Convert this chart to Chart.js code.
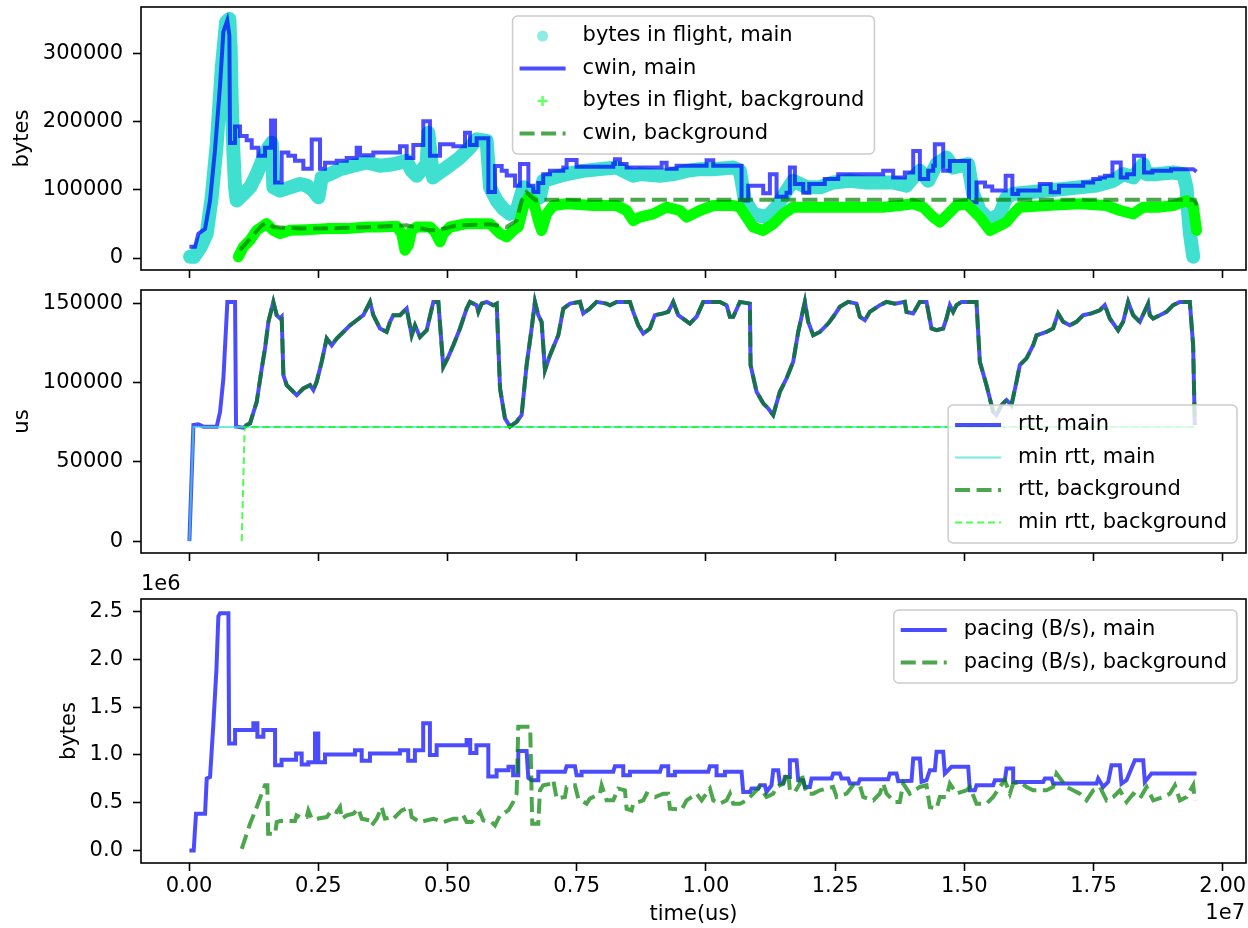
<!DOCTYPE html>
<html>
<head>
<meta charset="utf-8">
<script src="https://cdn.jsdelivr.net/npm/chart.js@4.4.1/dist/chart.umd.min.js"></script>
<style>
  html, body { margin: 0; padding: 0; background: #fff; }
  #wrap { position: relative; width: 1248px; height: 928px; }
  canvas { position: absolute; left: 0; }
</style>
</head>
<body>
<div id="wrap">
  <canvas id="c1" width="1248" height="282" style="top:0px"></canvas>
  <canvas id="c2" width="1248" height="285" style="top:280px"></canvas>
  <canvas id="c3" width="1248" height="368" style="top:560px"></canvas>
</div>
<script>
// --- axes / ticks ---
const xTicks = [0, 2500000, 5000000, 7500000, 10000000, 12500000, 15000000, 17500000, 20000000];
const xTickLabels = ['0.00', '0.25', '0.50', '0.75', '1.00', '1.25', '1.50', '1.75', '2.00'];
const yTicksTop = [0, 100000, 200000, 300000];
const yLabelsTop = ['0', '100000', '200000', '300000'];
const yTicksMid = [0, 50000, 100000, 150000];
const yLabelsMid = ['0', '50000', '100000', '150000'];
const yTicksBot = [0, 500000, 1000000, 1500000, 2000000, 2500000];
const yLabelsBot = ['0.0', '0.5', '1.0', '1.5', '2.0', '2.5'];

// --- top panel: [time (us), bytes] ---
const bifMain = [[20000,1900],[97000,1900],[226000,16500],[342000,35900],[438000,89200],[535000,166900],[632000,278500],[716000,346500],[780000,351000],[806000,302500],[825000,230000],[857000,157000],[890000,103800],[922000,84400],[1051000,94100],[1180000,103800],[1309000,123200],[1438000,147500],[1535000,162000],[1599000,169300],[1631000,103800],[1760000,99000],[1954000,103800],[2147000,108700],[2276000,106300],[2405000,99000],[2502000,89200],[2566000,118300],[2727000,123200],[2920000,130500],[3178000,135400],[3437000,140200],[3694000,135400],[3952000,137800],[4210000,142600],[4307000,128000],[4404000,120800],[4597000,137800],[4630000,184000],[4720000,118300],[4984000,132900],[5242000,147500],[5435000,162000],[5564000,174200],[5758000,171800],[5823000,103800],[5952000,84400],[6081000,72200],[6210000,64900],[6339000,69800],[6468000,103800],[6630000,94100],[6789000,89200],[6853000,113500],[7305000,123200],[7627000,128000],[7950000,130500],[8272000,132900],[8594000,120800],[8724000,123200],[9111000,120800],[9369000,123200],[9627000,128000],[9884000,130500],[10142000,130500],[10529000,132900],[10658000,128000],[10755000,84400],[10916000,64900],[11173000,60000],[11367000,74700],[11560000,99000],[11689000,113500],[11947000,103800],[12205000,103800],[12463000,111000],[12786000,113500],[13108000,111000],[13430000,111000],[13623000,111000],[13881000,106300],[14011000,118300],[14140000,128000],[14301000,113500],[14462000,137800],[14656000,147500],[14785000,132900],[15075000,137800],[15171000,94100],[15300000,69800],[15494000,55100],[15687000,64900],[15816000,89200],[15945000,94100],[16268000,96500],[16590000,99000],[16913000,101400],[17235000,103800],[17558000,106300],[17881000,113500],[18074000,123200],[18268000,118300],[18461000,137800],[18526000,123200],[18719000,123200],[19042000,125600],[19236000,123200],[19300000,103800],[19332000,64900],[19365000,35900],[19429000,1900]];

const cwinMain = [[6000,16500],[116000,16500],[180000,35900],[310000,43000],[405000,84000],[500000,157000],[600000,254000],[664000,332000],[740000,349000],[780000,327000],[793000,169000],[890000,169000],[890000,193000],[986000,193000],[986000,179000],[1115000,179000],[1115000,173000],[1212000,173000],[1212000,162000],[1341000,162000],[1341000,150000],[1470000,150000],[1470000,162000],[1586000,162000],[1586000,202000],[1663000,202000],[1663000,111000],[1792000,111000],[1792000,155000],[1921000,155000],[1921000,150000],[2050000,150000],[2050000,143000],[2211000,143000],[2211000,131000],[2373000,131000],[2373000,174000],[2534000,174000],[2534000,131000],[2631000,131000],[2631000,140000],[2856000,140000],[2856000,143000],[3050000,143000],[3050000,147000],[3243000,147000],[3243000,162000],[3307000,162000],[3307000,151000],[3565000,151000],[3565000,155000],[4081000,155000],[4081000,164000],[4210000,164000],[4210000,147000],[4339000,147000],[4339000,166000],[4532000,166000],[4532000,201000],[4661000,201000],[4661000,150000],[4855000,150000],[4855000,167000],[5113000,167000],[5113000,164000],[5339000,164000],[5339000,184000],[5435000,184000],[5435000,166000],[5564000,166000],[5564000,176000],[5791000,176000],[5791000,97000],[5920000,97000],[5920000,135000],[6049000,135000],[6049000,128000],[6146000,128000],[6146000,121000],[6306000,121000],[6306000,106000],[6402000,106000],[6402000,138000],[6565000,138000],[6565000,106000],[6660000,106000],[6660000,97000],[6757000,97000],[6757000,110000],[6853000,110000],[6853000,123000],[6983000,123000],[6983000,128000],[7241000,128000],[7241000,133000],[7305000,133000],[7305000,144000],[7498000,144000],[7498000,134000],[8208000,134000],[8208000,138000],[8240000,138000],[8240000,145000],[8337000,145000],[8337000,138000],[8466000,138000],[8466000,133000],[9143000,133000],[9143000,140000],[9240000,140000],[9240000,131000],[9433000,131000],[9433000,135400],[10013000,135400],[10013000,143600],[10142000,143600],[10142000,135400],[10690000,135400],[10690000,84400],[10819000,84400],[10819000,106300],[11109000,106300],[11109000,95000],[11238000,95000],[11238000,123000],[11367000,123000],[11367000,90000],[11560000,90000],[11560000,96000],[11625000,96000],[11625000,133000],[11722000,133000],[11722000,108700],[11883000,108700],[11883000,96000],[12000000,96000],[12000000,108700],[12300000,108700],[12300000,116000],[12560000,116000],[12560000,123000],[13430000,123000],[13430000,128000],[13623000,128000],[13623000,118300],[13849000,118300],[13849000,125600],[14011000,125600],[14011000,157200],[14140000,157200],[14140000,116000],[14301000,116000],[14301000,128000],[14398000,128000],[14398000,135400],[14430000,135400],[14430000,166900],[14591000,166900],[14591000,128000],[14720000,128000],[14720000,142600],[15091000,142600],[15091000,82000],[15236000,82000],[15236000,111000],[15400000,111000],[15400000,105000],[15540000,105000],[15540000,99000],[15800000,99000],[15800000,120800],[15929000,120800],[15929000,94000],[16042000,94000],[16042000,99000],[16460000,99000],[16460000,108700],[16671000,108700],[16671000,96500],[16832000,96500],[16832000,106300],[17300000,106300],[17300000,111000],[17494000,111000],[17494000,116000],[17623000,116000],[17623000,118300],[17720000,118300],[17720000,120800],[17865000,120800],[17865000,140200],[18026000,140200],[18026000,118300],[18150000,118300],[18150000,123200],[18284000,123200],[18284000,150000],[18477000,150000],[18477000,125600],[18640000,125600],[18640000,128000],[19000000,128000],[19000000,130500],[19429000,130500],[19493000,127000]];

const bifBg = [[954000,1900],[1051000,16500],[1180000,26200],[1309000,40800],[1406000,45600],[1500000,50500],[1631000,40800],[1760000,35900],[1954000,40800],[2276000,41700],[2663000,43200],[3050000,43200],[3437000,45600],[3694000,45600],[4017000,46600],[4114000,35900],[4178000,11600],[4243000,18900],[4307000,40800],[4404000,45600],[4661000,45600],[4758000,38300],[4855000,23800],[4919000,35900],[5048000,45600],[5371000,50500],[5823000,50500],[6017000,35900],[6146000,31000],[6275000,40800],[6370000,45600],[6466000,74700],[6563000,89200],[6660000,84400],[6757000,55100],[6821000,40500],[6918000,64900],[7047000,77100],[7305000,79600],[7821000,77100],[8272000,77100],[8466000,69800],[8594000,55100],[8724000,60000],[8982000,64900],[9240000,74700],[9498000,69800],[9627000,60000],[9884000,69800],[10142000,77100],[10529000,77100],[10658000,74700],[10787000,60000],[10916000,45400],[11109000,40500],[11302000,50200],[11496000,64900],[11689000,74700],[12141000,74700],[12786000,74700],[13430000,74700],[13752000,77100],[14011000,79600],[14204000,74700],[14398000,60000],[14527000,52700],[14656000,62400],[14849000,77100],[15042000,79600],[15171000,69800],[15300000,60000],[15494000,40500],[15687000,47800],[15816000,52700],[15945000,64900],[16074000,74700],[16590000,77100],[17235000,79600],[17752000,77100],[18010000,69800],[18268000,64900],[18461000,74700],[18784000,74700],[19042000,77100],[19300000,84400],[19429000,77100],[19493000,40500]];

const cwinBg = [[986000,11600],[1212000,31000],[1406000,48000],[1500000,51500],[1630000,45600],[2146000,43200],[2920000,44000],[3565000,45600],[4210000,48000],[4660000,40800],[4855000,41700],[5178000,48000],[5823000,49500],[6146000,45600],[6340000,55000],[6436000,84400],[6530000,96500],[6630000,89200],[6720000,84400],[6821000,85400],[12000000,85400],[19460000,85400],[19493000,77000]];

// --- middle panel: [time (us), us] ---
const rttMain = [[6000,0],[84000,73300],[180000,73700],[277000,72300],[535000,72300],[600000,81700],[664000,102700],[741000,151100],[890000,151100],[909000,72300],[1051000,71600],[1115000,73300],[1180000,74400],[1309000,88000],[1406000,109000],[1470000,121700],[1535000,138500],[1631000,151100],[1696000,142700],[1760000,140600],[1792000,141700],[1825000,104800],[1889000,98500],[2083000,92200],[2211000,96400],[2341000,98500],[2405000,95400],[2469000,100600],[2566000,113300],[2663000,128000],[2760000,123700],[2856000,128000],[2985000,132100],[3114000,136300],[3243000,139500],[3372000,142700],[3501000,151100],[3565000,142700],[3694000,134300],[3823000,132100],[3888000,138500],[3952000,142700],[4081000,142700],[4210000,146900],[4307000,130000],[4371000,136300],[4468000,128900],[4597000,133200],[4726000,151100],[4823000,151100],[4919000,110100],[5016000,116400],[5113000,123700],[5242000,134300],[5371000,146900],[5435000,151100],[5564000,149000],[5597000,144800],[5661000,150000],[5758000,151100],[5887000,149000],[5952000,150000],[6017000,96400],[6112000,77500],[6209000,72300],[6338000,75400],[6434000,79600],[6531000,111200],[6628000,134300],[6692000,151100],[6757000,142700],[6821000,138500],[6886000,108000],[6983000,117400],[7144000,130000],[7241000,146900],[7370000,150000],[7563000,151100],[7627000,143800],[7756000,146900],[7885000,151100],[8078000,150000],[8143000,149000],[8272000,151100],[8530000,151100],[8594000,144800],[8691000,136300],[8788000,131100],[8917000,134300],[9013000,142700],[9175000,143800],[9271000,144800],[9368000,151100],[9465000,142700],[9690000,137400],[9819000,141700],[9948000,151100],[10271000,151100],[10400000,149000],[10464000,141700],[10529000,141700],[10658000,151100],[10851000,150000],[10864000,111200],[10980000,94300],[11109000,87000],[11206000,83800],[11302000,79600],[11431000,94300],[11560000,102700],[11689000,113300],[11786000,132100],[11915000,151100],[11979000,138500],[12076000,130000],[12205000,132100],[12366000,137400],[12463000,141700],[12592000,148000],[12753000,151100],[12914000,150000],[12979000,141700],[13076000,139500],[13172000,144800],[13366000,149000],[13495000,151100],[13656000,150000],[13849000,151100],[13881000,144800],[14010000,143800],[14139000,151100],[14268000,151100],[14365000,134300],[14462000,133200],[14591000,134300],[14655000,140600],[14720000,149000],[14784000,144800],[14849000,149000],[14945000,151100],[15235000,151100],[15300000,113300],[15429000,98500],[15558000,81700],[15622000,79600],[15719000,85900],[15816000,89100],[15912000,85900],[16009000,100600],[16074000,111200],[16203000,115400],[16332000,123700],[16396000,130000],[16589000,132100],[16718000,134300],[16815000,143800],[16912000,138500],[17041000,136300],[17170000,138500],[17299000,142700],[17460000,143800],[17621000,145800],[17718000,149000],[17815000,140600],[17976000,133200],[18073000,138500],[18170000,151100],[18266000,142700],[18395000,138500],[18556000,150000],[18589000,142700],[18653000,140600],[18782000,142700],[18911000,144800],[19040000,149000],[19169000,151100],[19363000,151100],[19427000,123700],[19459000,73300]];
const rttBgStart = [[1083000,73000]];
const minRttMain = [[6000,0],[84000,72000],[19459000,72000]];
const minRttBg = [[1019000,0],[1075000,72000],[19459000,72000]];

// --- bottom panel: [time (us), bytes/s] ---
const pacingMain = [[6000,0],[90000,0],[110000,180000],[135000,385000],[309000,385000],[342000,753000],[406000,770000],[471000,1330000],[530000,1900000],[567000,2450000],[600000,2480000],[761000,2480000],[775000,1120000],[890000,1120000],[890000,1260000],[1244000,1260000],[1244000,1330000],[1322000,1330000],[1322000,1190000],[1438000,1190000],[1438000,1260000],[1664000,1260000],[1664000,893000],[1790000,893000],[1790000,950000],[2070000,950000],[2070000,1015000],[2179000,1015000],[2179000,900000],[2308000,900000],[2308000,922000],[2437000,922000],[2437000,1225000],[2500000,1225000],[2500000,922000],[2630000,922000],[2630000,1005000],[3210000,1005000],[3210000,1050000],[3340000,1050000],[3340000,940000],[3500000,940000],[3500000,1015000],[4080000,1015000],[4080000,1050000],[4240000,1050000],[4240000,940000],[4370000,940000],[4370000,1050000],[4530000,1050000],[4530000,1330000],[4660000,1330000],[4660000,1000000],[4790000,1000000],[4790000,1100000],[5370000,1100000],[5370000,1155000],[5440000,1155000],[5440000,1020000],[5560000,1020000],[5560000,1100000],[5790000,1100000],[5790000,775000],[5950000,775000],[5950000,840000],[6180000,840000],[6180000,875000],[6270000,875000],[6270000,787000],[6370000,787000],[6370000,1040000],[6531000,1040000],[6564000,760000],[6628000,735000],[6757000,735000],[6757000,823000],[7273000,823000],[7305000,882000],[7466000,882000],[7498000,788000],[7595000,788000],[7595000,823000],[8207000,823000],[8240000,882000],[8401000,882000],[8401000,788000],[8530000,788000],[8530000,823000],[9111000,823000],[9143000,882000],[9271000,882000],[9271000,788000],[9400000,788000],[9400000,823000],[10045000,823000],[10077000,882000],[10206000,882000],[10206000,788000],[10368000,788000],[10368000,823000],[10690000,823000],[10722000,613000],[10851000,613000],[10883000,648000],[11012000,648000],[11044000,683000],[11141000,683000],[11173000,613000],[11270000,683000],[11302000,840000],[11399000,840000],[11431000,700000],[11496000,700000],[11528000,770000],[11625000,770000],[11625000,945000],[11754000,945000],[11786000,735000],[11883000,735000],[11915000,665000],[12012000,665000],[12044000,753000],[12431000,753000],[12463000,805000],[12592000,805000],[12624000,753000],[12753000,753000],[12786000,700000],[12947000,700000],[12979000,745000],[13527000,745000],[13559000,805000],[13688000,805000],[13721000,725000],[13978000,730000],[14011000,963000],[14140000,963000],[14172000,718000],[14268000,735000],[14333000,840000],[14430000,840000],[14462000,1033000],[14591000,1033000],[14623000,805000],[14752000,875000],[15075000,875000],[15107000,630000],[15204000,630000],[15236000,683000],[15558000,683000],[15591000,735000],[15784000,735000],[15816000,858000],[15945000,858000],[15945000,718000],[16526000,718000],[16558000,753000],[16687000,753000],[16719000,700000],[17558000,700000],[17590000,753000],[17687000,665000],[17784000,718000],[17848000,893000],[18009000,893000],[18041000,700000],[18138000,735000],[18299000,945000],[18461000,945000],[18493000,718000],[18622000,805000],[19493000,805000]];

const pacingBg = [[1019000,17500],[1180000,280000],[1310000,455000],[1406000,595000],[1470000,683000],[1515000,683000],[1530000,175000],[1664000,175000],[1696000,298000],[1760000,308000],[2050000,308000],[2080000,368000],[2147000,350000],[2276000,350000],[2308000,420000],[2373000,333000],[2469000,333000],[2663000,350000],[2760000,420000],[2856000,403000],[2920000,455000],[2953000,333000],[3050000,368000],[3179000,385000],[3275000,438000],[3340000,333000],[3501000,315000],[3533000,263000],[3630000,333000],[3727000,455000],[3791000,333000],[3920000,350000],[3952000,333000],[4114000,420000],[4275000,455000],[4307000,350000],[4468000,298000],[4726000,333000],[4919000,298000],[5113000,333000],[5242000,333000],[5306000,368000],[5371000,298000],[5468000,298000],[5500000,315000],[5629000,403000],[5693000,315000],[5855000,298000],[5919000,263000],[6016000,368000],[6177000,420000],[6273000,508000],[6338000,595000],[6370000,1295000],[6600000,1295000],[6640000,280000],[6757000,280000],[6789000,630000],[6853000,683000],[7015000,700000],[7047000,735000],[7112000,543000],[7273000,560000],[7305000,665000],[7466000,683000],[7530000,543000],[7692000,490000],[7756000,543000],[7950000,595000],[7982000,683000],[8079000,525000],[8208000,525000],[8305000,648000],[8433000,630000],[8466000,438000],[8562000,420000],[8594000,490000],[8788000,525000],[8853000,595000],[9014000,560000],[9175000,595000],[9272000,595000],[9304000,438000],[9530000,427000],[9627000,525000],[9820000,595000],[9917000,525000],[10078000,648000],[10142000,525000],[10271000,490000],[10400000,525000],[10465000,595000],[10529000,490000],[10658000,490000],[10787000,525000],[10916000,595000],[11044000,665000],[11173000,560000],[11302000,595000],[11367000,665000],[11496000,700000],[11593000,823000],[11625000,630000],[11722000,613000],[11818000,700000],[11851000,805000],[11947000,595000],[12076000,595000],[12205000,630000],[12463000,665000],[12528000,560000],[12721000,595000],[12850000,683000],[12979000,683000],[13043000,560000],[13237000,525000],[13366000,595000],[13430000,700000],[13495000,595000],[13656000,508000],[13752000,508000],[13817000,700000],[13946000,595000],[14140000,665000],[14268000,683000],[14333000,455000],[14462000,438000],[14526000,560000],[14656000,560000],[14720000,700000],[14849000,595000],[15042000,630000],[15107000,665000],[15236000,490000],[15429000,490000],[15558000,560000],[15687000,665000],[15784000,735000],[15881000,595000],[15945000,700000],[16074000,718000],[16203000,665000],[16332000,630000],[16590000,630000],[16719000,665000],[16784000,805000],[16977000,665000],[17235000,595000],[17365000,525000],[17494000,630000],[17623000,665000],[17752000,525000],[17881000,560000],[18010000,630000],[18139000,508000],[18268000,595000],[18397000,543000],[18526000,665000],[18655000,525000],[18848000,560000],[18977000,595000],[19074000,683000],[19171000,525000],[19300000,560000],[19429000,683000],[19461000,525000]];

// --- styling ---
const FAMILY = '"DejaVu Sans", sans-serif';
const FS = 21;
const BLUE = 'rgba(0,0,255,0.7)';
const GREEN = 'rgba(0,128,0,0.7)';
const DASH = [15, 6.5];
const X_MIN = -930000, X_MAX = 20450000;

const pts = arr => arr.map(p => ({ x: p[0], y: p[1] }));

// matplotlib-like frame, legend and offset labels
const mplDecor = {
  id: 'mplDecor',
  afterDraw(chart, args, o) {
    const { ctx, chartArea: a } = chart;
    ctx.save();
    ctx.strokeStyle = '#000';
    ctx.lineWidth = 1.6;
    ctx.strokeRect(a.left, a.top, a.right - a.left, a.bottom - a.top);
    ctx.font = FS + 'px ' + FAMILY;
    ctx.fillStyle = '#000';
    ctx.textBaseline = 'middle';
    (o.texts || []).forEach(t => {
      ctx.textAlign = t.align;
      ctx.fillText(t.text, t.x, t.y);
    });
    if (o.loc) {
      const items = chart.data.datasets;
      const tw = Math.max(...items.map(d => ctx.measureText(d.label).width));
      const rowH = 32.5;
      const w = 70 + tw + 10, h = items.length * rowH + 8;
      let x, y;
      if (o.loc === 'upper center') { x = (a.left + a.right) / 2 - w / 2; y = a.top + 9; }
      else if (o.loc === 'lower right') { x = a.right - 9 - w; y = a.bottom - 10 - h; }
      else { x = a.right - 9 - w; y = a.top + 11; }
      ctx.beginPath();
      ctx.roundRect(x, y, w, h, 5);
      ctx.fillStyle = 'rgba(255,255,255,0.8)';
      ctx.fill();
      ctx.strokeStyle = '#cccccc';
      ctx.lineWidth = 1.5;
      ctx.stroke();
      items.forEach((d, i) => {
        const cy = y + 20 + i * rowH;
        if (d.legendKind === 'circle') {
          ctx.fillStyle = d.legendColor;
          ctx.beginPath();
          ctx.arc(x + 30, cy, 5.5, 0, Math.PI * 2);
          ctx.fill();
        } else if (d.legendKind === 'plus') {
          ctx.strokeStyle = d.legendColor;
          ctx.lineWidth = 2.5;
          ctx.setLineDash([]);
          ctx.beginPath();
          ctx.moveTo(x + 25, cy); ctx.lineTo(x + 35, cy);
          ctx.moveTo(x + 30, cy - 5); ctx.lineTo(x + 30, cy + 5);
          ctx.stroke();
        } else {
          ctx.strokeStyle = d.borderColor;
          ctx.lineWidth = d.borderWidth;
          ctx.setLineDash(d.borderDash || []);
          ctx.beginPath();
          ctx.moveTo(x + 7, cy); ctx.lineTo(x + 53, cy);
          ctx.stroke();
          ctx.setLineDash([]);
        }
        ctx.fillStyle = '#000';
        ctx.textAlign = 'left';
        ctx.fillText(d.label, x + 70, cy);
      });
    }
    ctx.restore();
  }
};

function xAxis(showLabels, height, title) {
  return {
    type: 'linear', min: X_MIN, max: X_MAX, bounds: 'data',
    afterBuildTicks: s => { s.ticks = xTicks.map(v => ({ value: v })); },
    afterFit: s => { s.height = height; s.paddingLeft = 0; s.paddingRight = 0; },
    grid: { drawOnChartArea: false, drawTicks: true, tickLength: 8, tickWidth: 1.6, tickColor: '#000' },
    border: { display: false },
    ticks: {
      display: showLabels, autoSkip: false, maxRotation: 0, padding: 3, color: '#000',
      font: { family: FAMILY, size: FS },
      callback: (v, i) => xTickLabels[i]
    },
    title: title ? { display: true, text: title, color: '#000', font: { family: FAMILY, size: FS }, padding: { top: 0, bottom: 1 } } : { display: false }
  };
}

function yAxis(min, max, ticks, labels, title, titlePad) {
  return {
    type: 'linear', min: min, max: max, bounds: 'data',
    afterBuildTicks: s => { s.ticks = ticks.map(v => ({ value: v })); },
    afterFit: s => { s.width = 141; s.paddingTop = 0; s.paddingBottom = 0; },
    grid: { drawOnChartArea: false, drawTicks: true, tickLength: 8, tickWidth: 1.6, tickColor: '#000' },
    border: { display: false },
    ticks: {
      autoSkip: false, padding: 10, color: '#000',
      font: { family: FAMILY, size: FS },
      callback: (v, i) => labels[i]
    },
    title: { display: true, text: title, color: '#000', font: { family: FAMILY, size: FS }, padding: { top: titlePad, bottom: 0 } }
  };
}

function lineSet(label, data, color, width, extra) {
  return Object.assign({
    label: label, data: pts(data), showLine: true, borderColor: color, backgroundColor: color,
    borderWidth: width, pointRadius: 0, fill: false
  }, extra || {});
}

function baseOptions(padTop, scales, decor) {
  return {
    responsive: false, animation: false, devicePixelRatio: 1, events: [],
    layout: { padding: { left: 0, right: 2, top: padTop, bottom: 0 } },
    plugins: { legend: { display: false }, tooltip: { enabled: false }, mplDecor: decor },
    scales: scales
  };
}

// top: bytes in flight / cwin
new Chart(document.getElementById('c1'), {
  type: 'scatter',
  data: {
    datasets: [
      lineSet('bytes in flight, main', bifMain, '#40E0D0', 14, { borderJoinStyle: 'round', borderCapStyle: 'round', legendKind: 'circle', legendColor: 'rgba(64,224,208,0.6)', order: 4 }),
      lineSet('cwin, main', cwinMain, BLUE, 4, { order: 3 }),
      lineSet('bytes in flight, background', bifBg, '#00FF00', 11, { borderJoinStyle: 'round', borderCapStyle: 'round', legendKind: 'plus', legendColor: 'rgba(0,255,0,0.6)', order: 2 }),
      lineSet('cwin, background', cwinBg, GREEN, 4, { borderDash: DASH, order: 1 })
    ]
  },
  options: baseOptions(7, {
    x: xAxis(false, 12, null),
    y: yAxis(-17550, 368550, yTicksTop, yLabelsTop, 'bytes', 10)
  }, { loc: 'upper center' }),
  plugins: [mplDecor]
});

// middle: rtt
new Chart(document.getElementById('c2'), {
  type: 'scatter',
  data: {
    datasets: [
      lineSet('rtt, main', rttMain, BLUE, 4, { order: 4 }),
      lineSet('min rtt, main', minRttMain, 'rgba(64,224,208,0.7)', 2, { order: 3 }),
      lineSet('rtt, background', rttBgStart.concat(rttMain.filter(p => p[0] >= 1115000)), GREEN, 4, { borderDash: DASH, order: 2 }),
      lineSet('min rtt, background', minRttBg, 'rgba(0,255,0,0.7)', 2, { borderDash: [7, 4], order: 1 })
    ]
  },
  options: baseOptions(10, {
    x: xAxis(false, 12, null),
    y: yAxis(-7500, 158600, yTicksMid, yLabelsMid, 'us', 10)
  }, { loc: 'lower right' }),
  plugins: [mplDecor]
});

// bottom: pacing
new Chart(document.getElementById('c3'), {
  type: 'scatter',
  data: {
    datasets: [
      lineSet('pacing (B/s), main', pacingMain, BLUE, 4, { order: 2 }),
      lineSet('pacing (B/s), background', pacingBg, GREEN, 4, { borderDash: DASH, order: 1 })
    ]
  },
  options: baseOptions(39, {
    x: xAxis(true, 65, 'time(us)'),
    y: yAxis(-130000, 2630000, yTicksBot, yLabelsBot, 'bytes', 57)
  }, {
    loc: 'upper right',
    texts: [
      { text: '1e6', x: 141, y: 25, align: 'left' },
      { text: '1e7', x: 1245, y: 354, align: 'right' }
    ]
  }),
  plugins: [mplDecor]
});
</script>
</body>
</html>
